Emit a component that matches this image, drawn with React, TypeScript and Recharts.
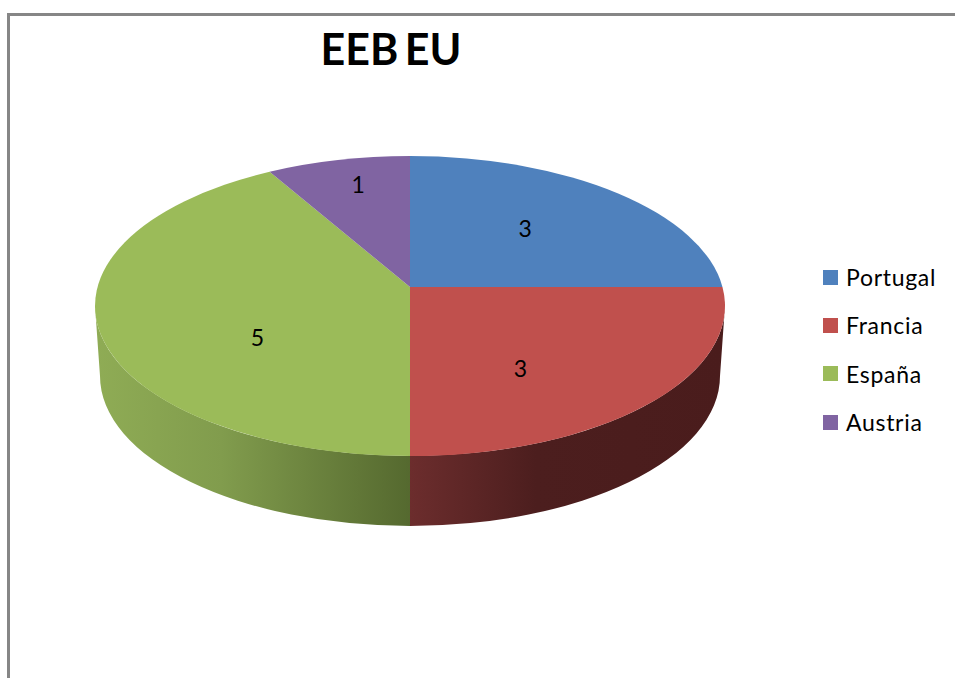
import { Legend, Pie, PieChart } from "recharts";

const countries = ["Portugal", "Francia", "España", "Austria"];
const counts = [3, 3, 5, 1];
const topColors = ["#4f81bd", "#c0504d", "#9bbb59", "#8064a2"];

const chartData = countries.map((name, i) => ({ name, value: counts[i], fill: topColors[i] }));

const FONT = "Lato, 'Noto Sans', sans-serif";

// top face is an ellipse, the slices meet at an apex above its middle (perspective)
const APEX = { x: 410, y: 287 };
const TOP = { cx: 410, cy: 306, rx: 315, ry: 150 };
const BOTTOM = { cx: 410, cy: 376, rx: 310, ry: 150 };

// how far each value label sits from the apex, along its mid angle
const labelSpots = [
  { spread: 163, lift: 83 },
  { spread: 156, lift: 115 },
  { spread: 158, lift: 193 },
  { spread: 200, lift: 107 },
];

const rad = (deg: number) => (deg * Math.PI) / 180;

// pie angle (clockwise from 12 o'clock) -> ellipse parameter where its ray hits the rim
function rimParam(theta: number) {
  const c = Math.cos(rad(theta));
  const dx = Math.sin(rad(theta));
  const dy = -c * (c > 0 ? 0.474 : 1);
  const oy = APEX.y - TOP.cy;
  const a = (dx * dx) / (TOP.rx * TOP.rx) + (dy * dy) / (TOP.ry * TOP.ry);
  const b = (2 * dy * oy) / (TOP.ry * TOP.ry);
  const k = (oy * oy) / (TOP.ry * TOP.ry) - 1;
  const s = (-b + Math.sqrt(b * b - 4 * a * k)) / (2 * a);
  const t = Math.atan2((s * dx) / TOP.rx, -(oy + s * dy) / TOP.ry);
  return t < -1e-6 ? t + 2 * Math.PI : Math.max(t, 0);
}

const rimPoint = (e: typeof TOP, t: number) => ({
  x: e.cx + e.rx * Math.sin(t),
  y: e.cy - e.ry * Math.cos(t),
});

function SliceShape(props: any) {
  const { startAngle, endAngle, fill, name } = props;
  const t0 = rimParam(90 - startAngle);
  let t1 = rimParam(90 - endAngle);
  if (t1 <= t0) t1 += 2 * Math.PI;

  const a = rimPoint(TOP, t0);
  const b = rimPoint(TOP, t1);
  const large = t1 - t0 > Math.PI ? 1 : 0;
  const face = `M${APEX.x},${APEX.y} L${a.x},${a.y} A${TOP.rx},${TOP.ry} 0 ${large} 1 ${b.x},${b.y} Z`;

  // side wall, only the part that faces the viewer
  const w0 = Math.max(t0, Math.PI / 2);
  const w1 = Math.min(t1, (3 * Math.PI) / 2);
  let wall = null;
  if (w1 > w0) {
    const p = rimPoint(TOP, w0);
    const q = rimPoint(TOP, w1);
    const r = rimPoint(BOTTOM, w1);
    const s = rimPoint(BOTTOM, w0);
    const d =
      `M${p.x},${p.y} A${TOP.rx},${TOP.ry} 0 0 1 ${q.x},${q.y} L${r.x},${r.y} ` +
      `A${BOTTOM.rx},${BOTTOM.ry} 0 0 0 ${s.x},${s.y} Z`;
    wall = <path d={d} fill={`url(#wall-${name})`} stroke="none" />;
  }

  return (
    <g>
      {wall}
      <path d={face} fill={fill} stroke="none" />
    </g>
  );
}

function valueLabel(props: any) {
  const { midAngle, index, value } = props;
  const spot = labelSpots[index];
  const theta = rad(90 - midAngle);
  return (
    <text
      x={APEX.x + Math.sin(theta) * spot.spread}
      y={APEX.y - Math.cos(theta) * spot.lift}
      textAnchor="middle"
      dominantBaseline="central"
      fontFamily={FONT}
      fontSize={23}
      fill="#000"
    >
      {value}
    </text>
  );
}

function LegendList() {
  return (
    <div style={{ fontFamily: FONT, fontSize: 23, letterSpacing: 0.7, color: "#000" }}>
      {chartData.map((d) => (
        <div key={d.name} style={{ display: "flex", alignItems: "center", height: 48.3 }}>
          <span style={{ width: 15, height: 15, background: d.fill, marginRight: 8 }} />
          {d.name}
        </div>
      ))}
    </div>
  );
}

export default function App() {
  return (
    <div style={{ position: "absolute", left: 0, top: 0, width: 955, height: 678, overflow: "hidden", background: "#fff" }}>
      <div
        style={{
          position: "absolute",
          left: 7,
          top: 13,
          width: 948,
          height: 665,
          boxSizing: "border-box",
          borderTop: "3px solid #868686",
          borderLeft: "3px solid #868686",
        }}
      />
      <PieChart width={955} height={678} style={{ position: "absolute", left: 0, top: 0 }} accessibilityLayer={false}>
        <defs>
          <linearGradient id="wall-Francia" gradientUnits="userSpaceOnUse" x1="410" y1="0" x2="725" y2="0">
            <stop offset="0" stopColor="#6c2d2d" />
            <stop offset="0.4" stopColor="#4c1e1e" />
            <stop offset="1" stopColor="#4a1c1c" />
          </linearGradient>
          <linearGradient id="wall-España" gradientUnits="userSpaceOnUse" x1="95" y1="0" x2="410" y2="0">
            <stop offset="0" stopColor="#8fac55" />
            <stop offset="0.4" stopColor="#819c4d" />
            <stop offset="1" stopColor="#55692f" />
          </linearGradient>
        </defs>
        <text
          x={391}
          y={48}
          textAnchor="middle"
          dominantBaseline="central"
          fontFamily={FONT}
          fontWeight={700}
          fontSize={43}
          wordSpacing={-4}
          fill="#000"
        >
          EEB EU
        </text>
        <Pie
          data={chartData}
          dataKey="value"
          nameKey="name"
          cx={410}
          cy={306}
          outerRadius={150}
          startAngle={90}
          endAngle={-270}
          stroke="none"
          shape={SliceShape}
          label={valueLabel}
          labelLine={false}
          isAnimationActive={false}
        />
        <Legend
          layout="vertical"
          content={<LegendList />}
          wrapperStyle={{ left: 823, top: 253, width: 130, bottom: "auto", right: "auto" }}
        />
      </PieChart>
    </div>
  );
}
